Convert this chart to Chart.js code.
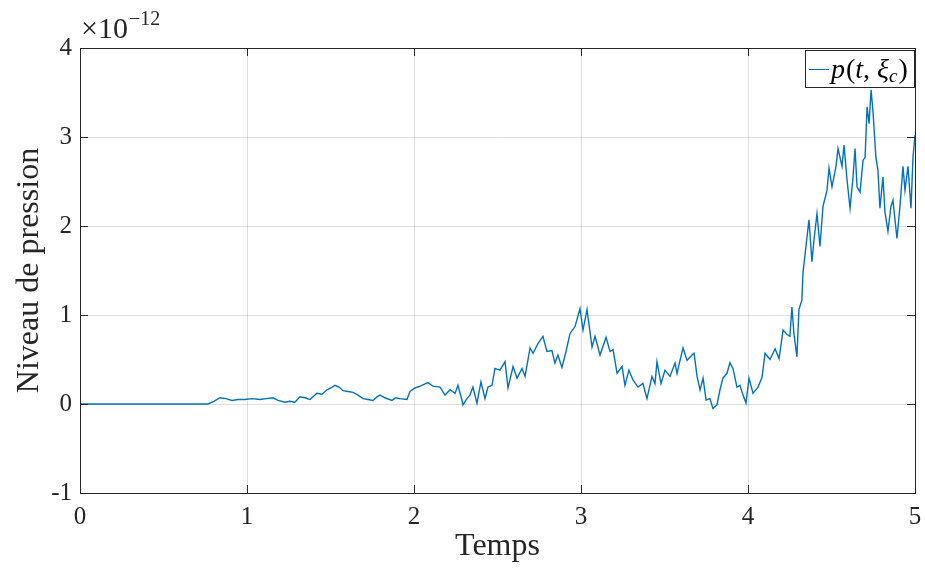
<!DOCTYPE html>
<html>
<head>
<meta charset="utf-8">
<script src="https://cdn.jsdelivr.net/npm/chart.js"></script>
<style>
  html, body { margin: 0; padding: 0; background: #fff; }
  canvas { display: block; }
</style>
</head>
<body>
<canvas id="pressionChart" width="925" height="570"></canvas>
<script>
// temps (s) et niveau de pression (x 1e-12)
const temps = [
  0, 0.760, 0.766, 0.802, 0.838, 0.874, 0.910, 0.946, 0.988, 1.030, 1.078, 1.114, 1.156, 1.186,
  1.228, 1.257, 1.287, 1.317, 1.347, 1.377, 1.419, 1.449, 1.479, 1.503, 1.527, 1.551, 1.575,
  1.605, 1.635, 1.665, 1.695, 1.725, 1.754, 1.778, 1.796, 1.826, 1.868, 1.892, 1.916, 1.958,
  1.976, 2.006, 2.036, 2.060, 2.084, 2.114, 2.156, 2.186, 2.216, 2.246, 2.263, 2.287, 2.293,
  2.317, 2.335, 2.353, 2.377, 2.401, 2.425, 2.443, 2.467, 2.485, 2.515, 2.545, 2.563, 2.593,
  2.617, 2.647, 2.665, 2.695, 2.713, 2.743, 2.772, 2.796, 2.826, 2.844, 2.862, 2.886, 2.910,
  2.934, 2.964, 2.994, 3.012, 3.036, 3.066, 3.084, 3.114, 3.150, 3.174, 3.192, 3.216, 3.246,
  3.263, 3.287, 3.311, 3.341, 3.371, 3.395, 3.425, 3.443, 3.455, 3.479, 3.503, 3.533, 3.563,
  3.575, 3.593, 3.611, 3.635, 3.665, 3.677, 3.695, 3.713, 3.731, 3.749, 3.772, 3.790, 3.814,
  3.832, 3.850, 3.874, 3.892, 3.910, 3.934, 3.952, 3.970, 3.988, 4.006, 4.030, 4.060, 4.084,
  4.102, 4.132, 4.162, 4.186, 4.210, 4.234, 4.251, 4.263, 4.275, 4.293, 4.305, 4.323, 4.329,
  4.347, 4.365, 4.383, 4.395, 4.413, 4.431, 4.449, 4.473, 4.485, 4.503, 4.527, 4.539, 4.563,
  4.575, 4.593, 4.611, 4.629, 4.641, 4.653, 4.671, 4.689, 4.701, 4.713, 4.725, 4.737, 4.749,
  4.766, 4.778, 4.790, 4.808, 4.820, 4.838, 4.856, 4.868, 4.892, 4.910, 4.928, 4.940, 4.958,
  4.976, 4.988, 5.000
];
const pression = [
  0, 0, 0, 0.03, 0.07, 0.06, 0.04, 0.05, 0.05, 0.06, 0.05, 0.06, 0.07, 0.04,
  0.02, 0.03, 0.02, 0.08, 0.07, 0.05, 0.12, 0.11, 0.16, 0.18, 0.21, 0.19, 0.15,
  0.14, 0.13, 0.10, 0.06, 0.05, 0.04, 0.08, 0.10, 0.07, 0.04, 0.07, 0.06, 0.05,
  0.14, 0.18, 0.20, 0.22, 0.24, 0.20, 0.19, 0.10, 0.16, 0.12, 0.21, 0.045, -0.01,
  0.06, 0.10, 0.19, 0.01, 0.25, 0.06, 0.19, 0.21, 0.40, 0.38, 0.475, 0.18, 0.42,
  0.29, 0.40, 0.31, 0.63, 0.57, 0.68, 0.76, 0.59, 0.60, 0.46, 0.55, 0.41, 0.59,
  0.79, 0.87, 1.07, 0.83, 1.06, 0.64, 0.76, 0.55, 0.75, 0.59, 0.61, 0.345, 0.42,
  0.21, 0.38, 0.27, 0.19, 0.23, 0.06, 0.31, 0.23, 0.475, 0.23, 0.38, 0.31, 0.46,
  0.345, 0.49, 0.63, 0.49, 0.55, 0.57, 0.31, 0.157, 0.29, 0.045, 0.06, -0.05, -0.01,
  0.157, 0.29, 0.345, 0.465, 0.40, 0.19, 0.21, 0.10, 0.01, 0.29, 0.12, 0.19, 0.30,
  0.57, 0.50, 0.62, 0.51, 0.83, 0.78, 0.76, 1.09, 0.79, 0.53, 1.06, 1.17, 1.47,
  1.77, 2.07, 1.60, 1.84, 2.14, 1.77, 2.22, 2.40, 2.65, 2.44, 2.67, 2.87, 2.67,
  2.91, 2.52, 2.20, 2.55, 2.87, 2.44, 2.38, 2.74, 2.77, 3.34, 3.15, 3.53, 3.27,
  2.77, 2.63, 2.20, 2.55, 2.16, 1.94, 2.22, 2.29, 1.86, 2.22, 2.67, 2.40, 2.67,
  2.20, 2.77, 3.02
];
const xTicks = [0, 1, 2, 3, 4, 5];
const yTicks = [-1, 0, 1, 2, 3, 4];

const serif = '"Liberation Serif", "DejaVu Serif", serif';
const lineColor = '#0072BD';

// cadre, ticks internes, exposant et légende façon MATLAB
const matlabBox = {
    id: 'matlabBox',
    afterDraw(chart) {
        const { ctx, chartArea: a, scales } = chart;
        ctx.save();
        ctx.strokeStyle = '#262626';
        ctx.lineWidth = 1;
        ctx.beginPath();
        xTicks.forEach(t => {
            const x = Math.round(scales.x.getPixelForValue(t)) + 0.5;
            ctx.moveTo(x, a.bottom); ctx.lineTo(x, a.bottom - 8);
            ctx.moveTo(x, a.top); ctx.lineTo(x, a.top + 8);
        });
        yTicks.forEach(t => {
            const y = Math.round(scales.y.getPixelForValue(t)) + 0.5;
            ctx.moveTo(a.left, y); ctx.lineTo(a.left + 8, y);
            ctx.moveTo(a.right, y); ctx.lineTo(a.right - 8, y);
        });
        ctx.stroke();
        ctx.strokeRect(Math.round(a.left) + 0.5, Math.round(a.top) + 0.5,
            Math.round(a.right - a.left), Math.round(a.bottom - a.top));

        // exposant de l'axe y
        ctx.fillStyle = '#262626';
        ctx.textBaseline = 'alphabetic';
        ctx.textAlign = 'left';
        ctx.font = '30px ' + serif;
        ctx.fillText('\u00d710', a.left + 1, 38);
        const w = ctx.measureText('\u00d710').width;
        ctx.font = '20px ' + serif;
        ctx.fillText('\u221212', a.left + 2 + w, 25);

        // légende
        const lx = a.right - 110, ly = a.top + 2, lw = 109, lh = 37;
        ctx.fillStyle = '#fff';
        ctx.fillRect(lx, ly, lw, lh);
        ctx.strokeStyle = '#262626';
        ctx.strokeRect(lx + 0.5, ly + 0.5, lw, lh);
        ctx.strokeStyle = lineColor;
        ctx.beginPath();
        ctx.moveTo(lx + 4, ly + 19.5); ctx.lineTo(lx + 24, ly + 19.5);
        ctx.stroke();
        ctx.fillStyle = '#000';
        let cx = lx + 26;
        const base = ly + 28;
        ctx.font = 'italic 28px ' + serif;
        ctx.fillText('p', cx, base); cx += ctx.measureText('p').width + 1;
        ctx.font = '28px ' + serif;
        ctx.fillText('(', cx, base); cx += ctx.measureText('(').width;
        ctx.font = 'italic 28px ' + serif;
        ctx.fillText('t', cx, base); cx += ctx.measureText('t').width;
        ctx.font = '28px ' + serif;
        ctx.fillText(',', cx, base); cx += ctx.measureText(', ').width;
        ctx.font = 'italic 28px ' + serif;
        ctx.fillText('\u03be', cx, base); cx += ctx.measureText('\u03be').width;
        ctx.font = 'italic 19px ' + serif;
        ctx.fillText('c', cx, base + 4); cx += ctx.measureText('c').width + 1;
        ctx.font = '28px ' + serif;
        ctx.fillText(')', cx, base);
        ctx.restore();
    }
};

const ctx = document.getElementById('pressionChart').getContext('2d');
new Chart(ctx, {
    type: 'line',
    data: {
        datasets: [{
            label: 'p(t, \u03bec)',
            data: temps.map((t, i) => ({ x: t, y: pression[i] })),
            borderColor: lineColor,
            borderWidth: 1.4,
            pointRadius: 0,
            tension: 0,
            fill: false
        }]
    },
    options: {
        responsive: false,
        animation: false,
        layout: { padding: { top: 48, right: 10, left: 0, bottom: 0 } },
        plugins: {
            legend: { display: false },
            tooltip: { enabled: false }
        },
        scales: {
            x: {
                type: 'linear',
                min: 0, max: 5,
                afterBuildTicks: s => { s.ticks = xTicks.map(v => ({ value: v })); },
                afterFit: s => { s.height = 77; s.paddingLeft = 0; s.paddingRight = 0; },
                grid: { color: 'rgba(0,0,0,0.13)', drawTicks: false },
                border: { display: false },
                ticks: { font: { family: serif, size: 25 }, color: '#262626', padding: 9 },
                title: { display: true, text: 'Temps', font: { family: serif, size: 32 }, color: '#262626', padding: { top: 6 } }
            },
            y: {
                min: -1, max: 4,
                afterBuildTicks: s => { s.ticks = yTicks.map(v => ({ value: v })); },
                afterFit: s => { s.width = 80; },
                grid: { color: 'rgba(0,0,0,0.13)', drawTicks: false },
                border: { display: false },
                ticks: { font: { family: serif, size: 25 }, color: '#262626', padding: 8 },
                title: { display: true, text: 'Niveau de pression', font: { family: serif, size: 32 }, color: '#262626', padding: { top: 10, bottom: 0 } }
            }
        }
    },
    plugins: [matlabBox]
});
</script>
</body>
</html>
